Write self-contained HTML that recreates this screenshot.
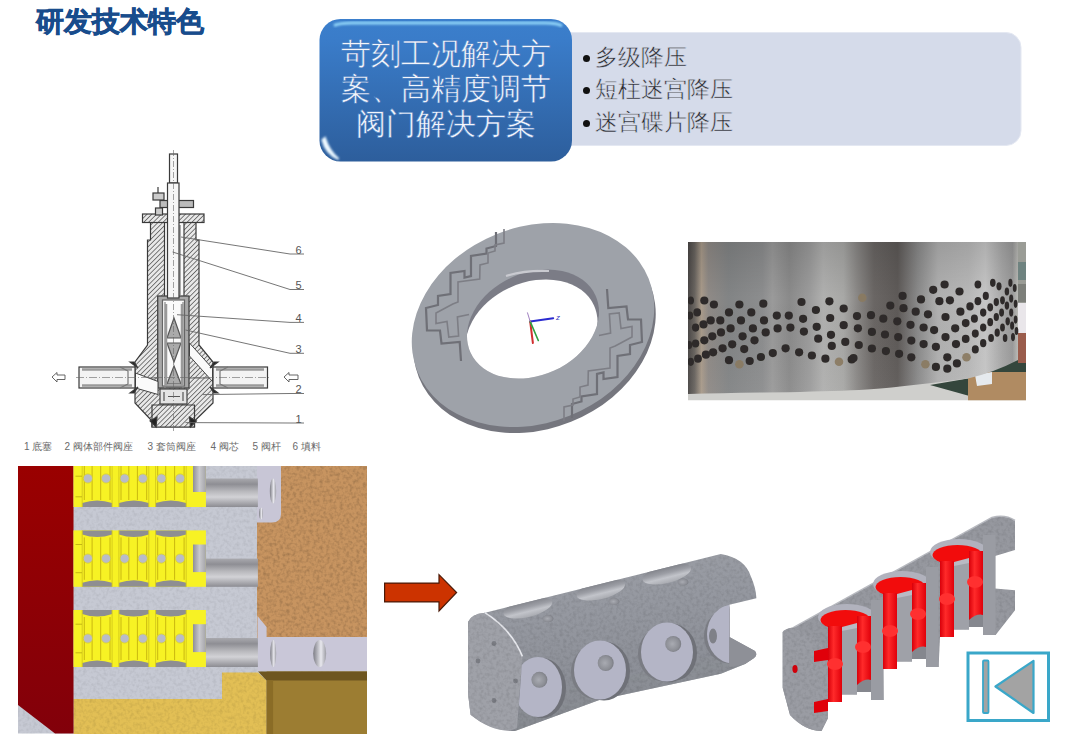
<!DOCTYPE html>
<html><head><meta charset="utf-8">
<style>
html,body{margin:0;padding:0;background:#fff;}
body{width:1067px;height:742px;position:relative;overflow:hidden;font-family:"Liberation Sans",sans-serif;}
.abs{position:absolute;}
#title{left:36px;top:5px;font-size:28px;font-weight:900;color:#184c8c;-webkit-text-stroke:0.7px #184c8c;letter-spacing:0px;line-height:34px;white-space:nowrap;}
#bluetxt{left:322px;top:37px;width:248px;text-align:center;color:#f4f6fb;-webkit-text-stroke:0.5px #3a74bd;font-family:"Liberation Serif",serif;font-weight:300;font-size:29.5px;line-height:35px;}
.bul{left:595px;font-size:23px;font-weight:300;color:#2a2a2a;-webkit-text-stroke:0.5px #d6dcea;line-height:26px;white-space:nowrap;}
.dot{left:582.5px;width:7px;height:7px;border-radius:50%;background:#111;}
.lbl{font-size:11px;color:#555;line-height:12px;}
#cap{left:23px;top:440px;font-size:10px;color:#6a6a6a;white-space:nowrap;}
#cap span{position:absolute;top:0;white-space:nowrap;}
</style></head><body>
<svg class="abs" style="left:0;top:0" width="1067" height="742" viewBox="0 0 1067 742">
<defs>
 <linearGradient id="gBlue" x1="0" y1="0" x2="0" y2="1">
  <stop offset="0" stop-color="#3b7fcc"/><stop offset="0.15" stop-color="#3a7cc9"/><stop offset="1" stop-color="#2d5e9c"/>
 </linearGradient>
 <linearGradient id="gRed" x1="0" y1="0" x2="1" y2="1">
  <stop offset="0" stop-color="#a30000"/><stop offset="1" stop-color="#7a0008"/>
 </linearGradient>
</defs>
<!-- light panel -->
<rect x="556" y="32.5" width="465" height="113" rx="15" fill="#d5dbea" stroke="#e4e8f2" stroke-width="1"/>
<!-- blue box -->
<rect x="319.5" y="19" width="252.5" height="142.5" rx="21" fill="url(#gBlue)"/>
<filter id="blur1" x="-10%" y="-50%" width="120%" height="200%"><feGaussianBlur stdDeviation="0.9"/></filter>
<path d="M334,25.5 Q340,23 352,23 L545,23 Q557,23 562,26" stroke="#90d4f8" stroke-width="3" fill="none" filter="url(#blur1)"/>
<path d="M571,45 L571,138" stroke="#b5e6fa" stroke-width="1.6" fill="none" filter="url(#blur1)"/>
<path d="M322.5,140 Q326,154 338.5,159 Q329,151 325,138 Z" fill="#f4fbff" stroke="#e8f6ff" stroke-width="2" filter="url(#blur1)"/>

<!-- VALVE DRAWING -->
<defs>
 <pattern id="hatch" patternUnits="userSpaceOnUse" width="3.4" height="3.4" patternTransform="rotate(45)">
  <rect width="3.4" height="3.4" fill="#e8e8e8"/><line x1="0" y1="0" x2="0" y2="3.4" stroke="#5e5e5e" stroke-width="1.6"/>
 </pattern>
</defs>
<g stroke="#3a3a3a" stroke-width="1.2" fill="none">
 <!-- body hatched -->
 <path fill="url(#hatch)" d="M150.5,222 L150.5,240 L147.5,240 L147.5,345 L135,362 L135,403 L152,421 L152,427 L194.5,427 L194.5,421 L213,403 L213,362 L199,345 L199,240 L196,240 L196,222 Z"/>
 <!-- bore -->
 <rect x="164.5" y="222" width="19.5" height="75" fill="#fafafa"/>
 <path d="M168,225 L168,295 M180,225 L180,295" stroke="#777"/>
 <!-- cage cavity -->
 <rect x="157.7" y="296" width="31.3" height="92" fill="#a8a8a8" stroke="#444" stroke-width="1.3"/>
 <rect x="162.5" y="300" width="22" height="86" fill="#fafafa" stroke="#666"/>
 <path d="M165,302 L165,390 M183,302 L183,390" stroke="#888"/>
 <path d="M174,318 L167,338 L181,338 Z M167,343 L181,343 L174,362 Z M174,366 L167,384 L181,384 Z" fill="#aaa" stroke="#555"/>
 <path d="M166,304 L166,386 M182,304 L182,386" stroke="#999" stroke-width="2.5"/>
 <!-- bottom plug -->
 <rect x="160" y="389" width="27" height="15" fill="#e4e4e4" stroke="#444"/>
 <path d="M164,392 L164,401 M183,392 L183,401 M168,396.5 L180,396.5" stroke="#555"/>
 <path fill="url(#hatch)" d="M152,405 L194.5,405 L194.5,427 L152,427 Z"/>
 <!-- flow passages -->
 <path d="M136,378 L159,378 M189,378 L212,378" stroke="#666"/>
 <path d="M135.5,373 L158,381.5 L158,394.5 L135.5,388 Z M189.5,343 L212.5,368.5 L212.5,381.5 L189.5,356 Z" fill="#fafafa" stroke="#444" stroke-width="1"/>
 <!-- flange & gland -->
 <rect x="142.5" y="214" width="61.5" height="8.5" fill="url(#hatch)"/>
 <rect x="160" y="200.5" width="33.5" height="7" fill="#bbb"/>
 <rect x="153" y="193" width="11" height="7" fill="#ccc"/>
 <rect x="155.5" y="208" width="7" height="7" fill="#ccc"/>
 <line x1="158" y1="187" x2="158" y2="193"/>
 <!-- stem -->
 <rect x="169.5" y="154" width="8" height="29" fill="#f6f6f6"/>
 <rect x="167.5" y="183" width="11.5" height="115" fill="#f6f6f6"/>
 <line x1="173.5" y1="150" x2="173.5" y2="432" stroke="#666" stroke-width="0.6" stroke-dasharray="6,2,1,2"/>
 <!-- pipes -->
 <rect x="79" y="367" width="56" height="21" fill="#f3f3f3"/>
 <rect x="213" y="367" width="54.5" height="21" fill="#f3f3f3"/>
 <path d="M82,369.5 L132,369.5 M82,385.5 L132,385.5 M216,369.5 L264,369.5 M216,385.5 L264,385.5" stroke="#9a9a9a" stroke-width="2.6"/>
 <path d="M120,367 L128,371 L128,384 L120,388 M228,367 L220,371 L220,384 L228,388" stroke="#777"/>
 <line x1="76" y1="377.5" x2="270" y2="377.5" stroke="#666" stroke-width="0.6" stroke-dasharray="8,2,1,2"/>
 <path d="M130,362 L138,368 L134,362 Z M130,393 L138,387 L134,393 Z M218,362 L210,368 L214,362 Z M218,393 L210,387 L214,393 Z" fill="#222"/>
 <path d="M150,421 L157,417 L156,427 Z M196.5,421 L189.5,417 L190.5,427 Z" fill="#222"/>
 <!-- arrows -->
 <path d="M52,377 L57,372.5 L57,375 L65,375 L65,379.5 L57,379.5 L57,382 Z" fill="#fff" stroke="#555" stroke-width="0.9"/>
 <path d="M284,377 L289,372.5 L289,375 L298,375 L298,379.5 L289,379.5 L289,382 Z" fill="#fff" stroke="#555" stroke-width="0.9"/>
 <!-- leader lines -->
 <g stroke="#666" stroke-width="0.9">
  <path d="M181,237 L290,254 L304,254"/>
  <path d="M172.6,252 L290,289.5 L304,289.5"/>
  <path d="M177,314.7 L290,322.4 L304,322.4"/>
  <path d="M185.5,330 L290,353.3 L304,353.3"/>
  <path d="M202.8,394.6 L290,393.5 L304,393.5"/>
  <path d="M185.5,422.6 L290,423 L304,423"/>
 </g>
</g>

<!-- RING -->
<defs>
 <clipPath id="holeClip" clipPathUnits="userSpaceOnUse"><ellipse cx="0" cy="0" rx="68.7" ry="51.2" transform="translate(533,324) rotate(-24.5)"/></clipPath>
</defs>
<g transform="translate(534.5,331) rotate(-21.9)"><ellipse cx="0" cy="0" rx="124.6" ry="97.9" fill="#75767e"/></g>
<g transform="translate(533,325) rotate(-21.9)"><ellipse cx="0" cy="0" rx="124.6" ry="97.9" fill="#9ea2a9"/></g>
<g transform="translate(533,324) rotate(-24.5)"><ellipse cx="0" cy="0" rx="68.7" ry="51.2" fill="#7b7c86"/></g>
<g clip-path="url(#holeClip)"><g transform="translate(531.5,334) rotate(-24.5)"><ellipse cx="0" cy="0" rx="68.7" ry="51.2" fill="#ffffff"/></g></g>
<g fill="none" stroke-linejoin="miter">
 <path d="M496.0,232.0 L496.0,246.0 L486.5,248.5 L486.5,253.5 L471.0,256.0 L471.0,276.0 L464.5,277.5 L464.5,271.0 L450.5,273.0 L450.5,294.0 L438.0,296.0 L438.0,305.0 L426.0,308.0 L427.0,330.5 L440.0,330.5 L441.5,343.5 L459.7,342.0 L461.0,361.0" stroke="#6f7077" stroke-width="2.2"/>
 <path d="M504.0,229.0 L504.0,243.0 L495.0,245.0 L495.0,251.0 L488.0,253.0 L488.0,263.0 L480.0,265.0 L479.7,279.0 L465.0,281.0 L458.0,282.0 L458.0,302.0 L452.8,304.0 L436.0,313.0 L436.0,323.5 L447.0,321.5 L448.8,337.0 L458.6,336.0 L457.4,317.0 L469.0,314.5" stroke="#7d7e85" stroke-width="1.6"/>
 <path d="M572.0,418.0 L572.0,404.0 L581.5,401.5 L581.5,396.5 L597.0,394.0 L597.0,374.0 L603.5,372.5 L603.5,379.0 L617.5,377.0 L617.5,356.0 L630.0,354.0 L630.0,345.0 L642.0,342.0 L641.0,319.5 L628.0,319.5 L626.5,306.5 L608.3,308.0 L607.0,289.0" stroke="#6f7077" stroke-width="2.2"/>
 <path d="M564.0,421.0 L564.0,407.0 L573.0,405.0 L573.0,399.0 L580.0,397.0 L580.0,387.0 L588.0,385.0 L588.3,371.0 L603.0,369.0 L610.0,368.0 L610.0,348.0 L615.2,346.0 L632.0,337.0 L632.0,326.5 L621.0,328.5 L619.2,313.0 L609.4,314.0 L610.6,333.0 L599.0,335.5" stroke="#7d7e85" stroke-width="1.6"/>
</g>
<path d="M506,276 Q525,270 549,271" stroke="#c9cad0" stroke-width="2.2" fill="none"/>
<g stroke-linecap="round">
 <line x1="530.2" y1="321.6" x2="553.2" y2="318.2" stroke="#2a2ad0" stroke-width="2"/>
 <line x1="530.2" y1="321.6" x2="532.9" y2="343" stroke="#d03030" stroke-width="2"/>
 <line x1="530.2" y1="321.6" x2="538.3" y2="340.5" stroke="#30a040" stroke-width="1.6"/>
 <line x1="530.2" y1="321.6" x2="527.5" y2="312.8" stroke="#a080c0" stroke-width="1"/>
 <text x="556" y="320" font-size="8" fill="#4040c0" font-family="Liberation Sans" font-style="italic">z</text>
</g>

<!-- PHOTO -->
<defs>
 <linearGradient id="gMetal" x1="688" y1="0" x2="1026" y2="0" gradientUnits="userSpaceOnUse">
  <stop offset="0" stop-color="#4a4746"/>
  <stop offset="0.02" stop-color="#6a6560"/>
  <stop offset="0.04" stop-color="#a89a8a"/>
  <stop offset="0.06" stop-color="#8f8a86"/>
  <stop offset="0.12" stop-color="#828485"/>
  <stop offset="0.22" stop-color="#8c8d8e"/>
  <stop offset="0.25" stop-color="#9a9a9a"/>
  <stop offset="0.3" stop-color="#8a8a8a"/>
  <stop offset="0.36" stop-color="#9c9c9c"/>
  <stop offset="0.4" stop-color="#b0b0af"/>
  <stop offset="0.46" stop-color="#a8a8a6"/>
  <stop offset="0.5" stop-color="#8a8886"/>
  <stop offset="0.55" stop-color="#6a6664"/>
  <stop offset="0.62" stop-color="#5e5a58"/>
  <stop offset="0.68" stop-color="#8a8a8a"/>
  <stop offset="0.74" stop-color="#b0b0b0"/>
  <stop offset="0.83" stop-color="#b8b8b8"/>
  <stop offset="0.88" stop-color="#c6c6c6"/>
  <stop offset="0.93" stop-color="#a8a8a8"/>
  <stop offset="0.96" stop-color="#9a9a9a"/>
  <stop offset="0.975" stop-color="#b8b8b4"/>
  <stop offset="1" stop-color="#a8a8a4"/>
 </linearGradient>
 <filter id="blurS" x="-5%" y="-5%" width="110%" height="110%"><feGaussianBlur stdDeviation="0.5"/></filter>
 <linearGradient id="gMetalV" x1="0" y1="242" x2="0" y2="400" gradientUnits="userSpaceOnUse">
  <stop offset="0" stop-color="#000" stop-opacity="0.12"/>
  <stop offset="0.35" stop-color="#000" stop-opacity="0"/>
  <stop offset="1" stop-color="#fff" stop-opacity="0.05"/>
 </linearGradient>
</defs>
<clipPath id="photoClip"><rect x="688" y="242" width="338" height="158.5"/></clipPath>
<g clip-path="url(#photoClip)">
<rect x="688" y="242" width="338" height="158.5" fill="#cfcfcc"/>
<path d="M930,385 L968,378.6 L969.5,396 Z" fill="#34463c"/>
<path d="M988,355 L1026,355 L1026,372 L988,372 Z" fill="#34463c"/>
<path d="M968,372 L1026,372 L1026,400.5 L968,400.5 Z" fill="#b08b62"/>
<path d="M975,375 L992,372 L992,384 L977,386 Z" fill="#e6eaee"/>
<rect x="1018" y="242" width="8" height="120" fill="#9a9c96"/>
<rect x="1018" y="262" width="8" height="18" fill="#6f8380"/>
<rect x="1018" y="284" width="8" height="18" fill="#7d7f7a"/>
<rect x="1018" y="303" width="8" height="30" fill="#e9e6ea"/>
<rect x="1018" y="333" width="8" height="30" fill="#9a5c4c"/>

<path d="M688,242 L1018,242 L1018,360 Q995,372 968,378.6 Q935,383 900,386.4 Q870,391 760,392.5 Q720,393 688,394 Z" fill="url(#gMetal)"/>
<path d="M688,242 L1018,242 L1018,360 Q995,372 968,378.6 Q935,383 900,386.4 Q870,391 760,392.5 Q720,393 688,394 Z" fill="url(#gMetalV)"/>
<g fill="#2e2b29" filter="url(#blurS)"><ellipse cx="690.8" cy="300.5" rx="3.18" ry="4.1"/><ellipse cx="704.3" cy="300.5" rx="4.10" ry="4.1"/><ellipse cx="713.9" cy="304.5" rx="4.10" ry="4.1"/><ellipse cx="697.2" cy="312.4" rx="3.82" ry="4.1"/><ellipse cx="690.0" cy="315.6" rx="3.10" ry="4.1"/><ellipse cx="710.7" cy="320.4" rx="4.10" ry="4.1"/><ellipse cx="720.3" cy="320.4" rx="4.10" ry="4.1"/><ellipse cx="729.0" cy="312.4" rx="4.10" ry="4.1"/><ellipse cx="739.4" cy="304.5" rx="4.10" ry="4.1"/><ellipse cx="763.3" cy="303.7" rx="4.10" ry="4.1"/><ellipse cx="751.3" cy="312.4" rx="4.10" ry="4.1"/><ellipse cx="741.0" cy="320.4" rx="4.10" ry="4.1"/><ellipse cx="764.0" cy="320.4" rx="4.10" ry="4.1"/><ellipse cx="776.8" cy="315.6" rx="4.10" ry="4.1"/><ellipse cx="788.8" cy="315.6" rx="4.10" ry="4.1"/><ellipse cx="801.5" cy="302.0" rx="4.10" ry="4.1"/><ellipse cx="815.9" cy="310.0" rx="4.10" ry="4.1"/><ellipse cx="829.4" cy="301.3" rx="4.10" ry="4.1"/><ellipse cx="843.7" cy="308.5" rx="4.10" ry="4.1"/><ellipse cx="830.2" cy="318.0" rx="4.10" ry="4.1"/><ellipse cx="803.1" cy="318.8" rx="4.10" ry="4.1"/><ellipse cx="695.6" cy="327.6" rx="3.66" ry="4.1"/><ellipse cx="703.5" cy="324.4" rx="4.10" ry="4.1"/><ellipse cx="721.0" cy="332.4" rx="4.10" ry="4.1"/><ellipse cx="730.6" cy="328.4" rx="4.10" ry="4.1"/><ellipse cx="752.9" cy="328.4" rx="4.10" ry="4.1"/><ellipse cx="765.7" cy="332.4" rx="4.10" ry="4.1"/><ellipse cx="777.6" cy="328.4" rx="4.10" ry="4.1"/><ellipse cx="790.4" cy="327.6" rx="4.10" ry="4.1"/><ellipse cx="803.9" cy="331.6" rx="4.10" ry="4.1"/><ellipse cx="816.7" cy="326.8" rx="4.10" ry="4.1"/><ellipse cx="843.7" cy="325.2" rx="4.10" ry="4.1"/><ellipse cx="831.0" cy="334.8" rx="4.10" ry="4.1"/><ellipse cx="712.3" cy="336.3" rx="4.10" ry="4.1"/><ellipse cx="704.3" cy="340.3" rx="4.10" ry="4.1"/><ellipse cx="695.6" cy="343.5" rx="3.66" ry="4.1"/><ellipse cx="689.2" cy="345.0" rx="3.02" ry="4.1"/><ellipse cx="742.6" cy="336.3" rx="4.10" ry="4.1"/><ellipse cx="754.5" cy="340.3" rx="4.10" ry="4.1"/><ellipse cx="732.2" cy="344.3" rx="4.10" ry="4.1"/><ellipse cx="722.6" cy="348.3" rx="4.10" ry="4.1"/><ellipse cx="713.1" cy="352.3" rx="4.10" ry="4.1"/><ellipse cx="705.9" cy="354.7" rx="4.10" ry="4.1"/><ellipse cx="698.0" cy="358.7" rx="3.90" ry="4.1"/><ellipse cx="690.8" cy="361.8" rx="3.18" ry="4.1"/><ellipse cx="744.2" cy="349.1" rx="4.10" ry="4.1"/><ellipse cx="729.0" cy="360.2" rx="4.10" ry="4.1"/><ellipse cx="749.7" cy="361.0" rx="4.10" ry="4.1"/><ellipse cx="760.9" cy="357.0" rx="4.10" ry="4.1"/><ellipse cx="772.8" cy="353.1" rx="4.10" ry="4.1"/><ellipse cx="785.6" cy="348.3" rx="4.10" ry="4.1"/><ellipse cx="799.1" cy="352.3" rx="4.10" ry="4.1"/><ellipse cx="811.9" cy="355.5" rx="4.10" ry="4.1"/><ellipse cx="825.4" cy="358.7" rx="4.10" ry="4.1"/><ellipse cx="818.2" cy="338.7" rx="4.10" ry="4.1"/><ellipse cx="831.8" cy="345.9" rx="4.10" ry="4.1"/><ellipse cx="845.3" cy="341.9" rx="4.10" ry="4.1"/><ellipse cx="851.7" cy="359.5" rx="4.10" ry="4.1"/><ellipse cx="857.0" cy="316.1" rx="4.10" ry="4.1"/><ellipse cx="871.0" cy="315.2" rx="4.10" ry="4.1"/><ellipse cx="857.9" cy="328.3" rx="4.10" ry="4.1"/><ellipse cx="871.9" cy="331.9" rx="4.10" ry="4.1"/><ellipse cx="858.8" cy="345.0" rx="4.10" ry="4.1"/><ellipse cx="871.9" cy="348.5" rx="4.10" ry="4.1"/><ellipse cx="853.5" cy="358.1" rx="4.10" ry="4.1"/><ellipse cx="890.3" cy="305.6" rx="4.10" ry="4.1"/><ellipse cx="883.3" cy="318.7" rx="4.10" ry="4.1"/><ellipse cx="885.0" cy="334.5" rx="4.10" ry="4.1"/><ellipse cx="885.9" cy="351.1" rx="4.10" ry="4.1"/><ellipse cx="902.6" cy="295.9" rx="4.10" ry="4.1"/><ellipse cx="903.5" cy="308.2" rx="4.10" ry="4.1"/><ellipse cx="897.3" cy="321.3" rx="4.10" ry="4.1"/><ellipse cx="898.2" cy="337.1" rx="4.10" ry="4.1"/><ellipse cx="899.1" cy="353.8" rx="4.10" ry="4.1"/><ellipse cx="911.3" cy="357.3" rx="4.10" ry="4.1"/><ellipse cx="921.0" cy="299.4" rx="4.10" ry="4.1"/><ellipse cx="915.7" cy="311.7" rx="4.10" ry="4.1"/><ellipse cx="910.5" cy="324.8" rx="4.10" ry="4.1"/><ellipse cx="911.3" cy="340.6" rx="4.10" ry="4.1"/><ellipse cx="923.6" cy="327.5" rx="4.10" ry="4.1"/><ellipse cx="923.6" cy="344.1" rx="4.10" ry="4.1"/><ellipse cx="928.0" cy="314.3" rx="4.10" ry="4.1"/><ellipse cx="933.2" cy="289.8" rx="4.10" ry="4.1"/><ellipse cx="944.6" cy="284.5" rx="4.10" ry="4.1"/><ellipse cx="939.4" cy="301.2" rx="4.10" ry="4.1"/><ellipse cx="949.9" cy="300.3" rx="4.10" ry="4.1"/><ellipse cx="945.5" cy="317.0" rx="4.10" ry="4.1"/><ellipse cx="934.1" cy="330.1" rx="4.10" ry="4.1"/><ellipse cx="935.9" cy="346.8" rx="4.10" ry="4.1"/><ellipse cx="935.9" cy="366.9" rx="4.10" ry="4.1"/><ellipse cx="947.3" cy="357.3" rx="4.10" ry="4.1"/><ellipse cx="947.3" cy="368.7" rx="4.10" ry="4.1"/><ellipse cx="956.9" cy="363.4" rx="4.10" ry="4.1"/><ellipse cx="945.5" cy="337.1" rx="4.10" ry="4.1"/><ellipse cx="955.2" cy="328.3" rx="4.10" ry="4.1"/><ellipse cx="959.5" cy="291.5" rx="4.10" ry="4.1"/><ellipse cx="960.4" cy="311.7" rx="4.08" ry="4.1"/><ellipse cx="956.0" cy="344.1" rx="4.10" ry="4.1"/><ellipse cx="965.7" cy="323.1" rx="3.87" ry="4.1"/><ellipse cx="965.7" cy="338.9" rx="3.87" ry="4.1"/><ellipse cx="977.9" cy="284.5" rx="3.38" ry="4.1"/><ellipse cx="970.0" cy="306.4" rx="3.70" ry="4.1"/><ellipse cx="977.9" cy="301.2" rx="3.38" ry="4.1"/><ellipse cx="974.4" cy="318.7" rx="3.52" ry="4.1"/><ellipse cx="975.3" cy="333.6" rx="3.49" ry="4.1"/><ellipse cx="975.3" cy="349.4" rx="3.49" ry="4.1"/><ellipse cx="985.8" cy="295.9" rx="3.07" ry="4.1"/><ellipse cx="983.2" cy="312.6" rx="3.17" ry="4.1"/><ellipse cx="983.2" cy="327.5" rx="3.17" ry="4.1"/><ellipse cx="983.2" cy="343.2" rx="3.17" ry="4.1"/><ellipse cx="992.8" cy="282.8" rx="2.79" ry="4.1"/><ellipse cx="999.0" cy="286.3" rx="2.54" ry="4.1"/><ellipse cx="990.2" cy="307.3" rx="2.89" ry="4.1"/><ellipse cx="990.2" cy="322.2" rx="2.89" ry="4.1"/><ellipse cx="991.1" cy="338.0" rx="2.86" ry="4.1"/><ellipse cx="996.3" cy="302.1" rx="2.65" ry="4.1"/><ellipse cx="996.3" cy="317.0" rx="2.65" ry="4.1"/><ellipse cx="997.2" cy="332.7" rx="2.61" ry="4.1"/><ellipse cx="1002.5" cy="300.3" rx="2.40" ry="4.1"/><ellipse cx="1001.6" cy="312.6" rx="2.44" ry="4.1"/><ellipse cx="1002.5" cy="327.5" rx="2.40" ry="4.1"/><ellipse cx="1005.1" cy="338.0" rx="2.30" ry="4.1"/><ellipse cx="1006.9" cy="291.5" rx="2.22" ry="4.1"/><ellipse cx="1006.9" cy="305.6" rx="2.22" ry="4.1"/><ellipse cx="1007.7" cy="321.3" rx="2.19" ry="4.1"/><ellipse cx="1010.4" cy="282.8" rx="2.08" ry="4.1"/><ellipse cx="1011.2" cy="298.6" rx="2.05" ry="4.1"/><ellipse cx="1011.2" cy="312.6" rx="2.05" ry="4.1"/><ellipse cx="1012.1" cy="325.7" rx="2.02" ry="4.1"/><ellipse cx="1013.0" cy="337.1" rx="1.98" ry="4.1"/><ellipse cx="1014.7" cy="288.0" rx="1.91" ry="4.1"/><ellipse cx="1015.6" cy="303.8" rx="1.88" ry="4.1"/><ellipse cx="1015.6" cy="319.6" rx="1.88" ry="4.1"/><ellipse cx="1016.5" cy="331.0" rx="1.84" ry="4.1"/></g><g fill="#8a7a60" opacity="0.9"><circle cx="739.4" cy="364.2" r="4.3"/><circle cx="839.0" cy="361.8" r="4.3"/><circle cx="862.3" cy="297.7" r="4.3"/><circle cx="925.4" cy="364.3" r="4.3"/><circle cx="966.5" cy="357.3" r="4.3"/></g>
</g>
<!-- BOTTOM-LEFT RENDER -->
<defs>
<filter id="noise" x="0" y="0" width="100%" height="100%" filterUnits="objectBoundingBox">
  <feTurbulence type="fractalNoise" baseFrequency="0.3" numOctaves="2" seed="3" result="t"/>
  <feColorMatrix in="t" type="matrix" values="0 0 0 0 0  0 0 0 0 0  0 0 0 0 0  0 0 0 -1.6 0.95" result="a"/>
  <feComposite in="a" in2="SourceGraphic" operator="in"/>
 </filter>

 <linearGradient id="gRedP" x1="0" y1="0" x2="0" y2="1">
  <stop offset="0" stop-color="#9a0000"/><stop offset="1" stop-color="#82000a"/>
 </linearGradient>
 <linearGradient id="gPipe" x1="0" y1="0" x2="0" y2="1">
  <stop offset="0" stop-color="#a9a9ae"/><stop offset="0.2" stop-color="#8e8e94"/><stop offset="0.45" stop-color="#b8b8bc"/><stop offset="0.65" stop-color="#d2d2d6"/><stop offset="1" stop-color="#8c8c92"/>
 </linearGradient>
 <linearGradient id="gNotch" x1="0" y1="0" x2="1" y2="0">
  <stop offset="0" stop-color="#8f8f95"/><stop offset="0.5" stop-color="#c9c9cd"/><stop offset="1" stop-color="#a4a4a9"/>
 </linearGradient>
 <linearGradient id="gHoleL" x1="0" y1="0" x2="1" y2="0">
  <stop offset="0" stop-color="#7c7c84"/><stop offset="0.6" stop-color="#e8e8ee"/><stop offset="1" stop-color="#9c9ca4"/>
 </linearGradient>
</defs>
<rect x="18" y="466" width="349" height="267.5" fill="#c6c9d3"/>
<rect x="18" y="466" width="349" height="267.5" fill="#6a7080" opacity="0.09" filter="url(#noise)"/>
<!-- brown -->
<rect x="257" y="466" width="110" height="172" fill="#c79460"/>
<rect x="257" y="466" width="110" height="172" fill="#8a5a2a" opacity="0.22" filter="url(#noise)"/>
<!-- upper lavender plate -->
<path d="M257,466 L281,466 L281,514 Q281,522.5 272,522.5 L257,522.5 Z" fill="#c8c6d6"/>
<ellipse cx="273" cy="491" rx="3.2" ry="12.5" fill="url(#gHoleL)"/>
<ellipse cx="261" cy="513.5" rx="2" ry="6" fill="url(#gHoleL)"/>
<!-- lower lavender plate -->
<path d="M257.5,616 L266.6,627 L266.6,637 L367,637 L367,671 L257.5,671 Z" fill="#c9c7d8"/>
<ellipse cx="273.2" cy="653.5" rx="3" ry="13.5" fill="url(#gHoleL)"/>
<ellipse cx="319.7" cy="653.5" rx="6.5" ry="13.5" fill="url(#gHoleL)"/>
<!-- gold -->
<path d="M73.5,699 L222,699 L222,672.5 L258,672.5 L266.6,680.5 L266.6,734 L73.5,734 Z" fill="#e2bf55"/>
<path d="M73.5,699 L222,699 L222,672.5 L258,672.5 L266.6,680.5 L266.6,734 L73.5,734 Z" fill="#8a6a20" opacity="0.12" filter="url(#noise)"/>
<!-- olive -->
<rect x="266.6" y="671.5" width="100.4" height="62.5" fill="#9c7d32"/>
<path d="M258,671.5 L367,671.5 L367,680.5 L266.6,680.5 Z" fill="#6e5620"/>
<rect x="266.6" y="680.5" width="6.5" height="53.5" fill="#8a6c26"/>
<!-- red panel -->
<path d="M18,466 L73.5,466 L73.5,733.5 L55,733.5 L18,705 Z" fill="url(#gRedP)"/>

<rect x="205.9" y="478.5" width="52" height="28.5" fill="url(#gPipe)"/>
<rect x="73.5" y="466" width="132.4" height="41.0" fill="#f7f224"/>
<path d="M82.2,507 L112.1,507 L112.1,503 Q97.15,498 82.2,503 Z" fill="#8e8e92"/>
<line x1="84.3" y1="466" x2="84.3" y2="500" stroke="#c9b810" stroke-width="1"/>
<line x1="92.1" y1="466" x2="92.1" y2="500" stroke="#c9b810" stroke-width="1"/>
<line x1="100.7" y1="466" x2="100.7" y2="500" stroke="#c9b810" stroke-width="1"/>
<line x1="110.0" y1="466" x2="110.0" y2="500" stroke="#c9b810" stroke-width="1"/>
<circle cx="87.9" cy="478.5" r="4.6" fill="#b9bcc8" stroke="#d8cf30" stroke-width="0.8"/>
<circle cx="106.1" cy="478.5" r="4.6" fill="#b9bcc8" stroke="#d8cf30" stroke-width="0.8"/>
<path d="M118.9,507 L148.8,507 L148.8,503 Q133.85000000000002,498 118.9,503 Z" fill="#8e8e92"/>
<line x1="121.0" y1="466" x2="121.0" y2="500" stroke="#c9b810" stroke-width="1"/>
<line x1="128.8" y1="466" x2="128.8" y2="500" stroke="#c9b810" stroke-width="1"/>
<line x1="137.4" y1="466" x2="137.4" y2="500" stroke="#c9b810" stroke-width="1"/>
<line x1="146.7" y1="466" x2="146.7" y2="500" stroke="#c9b810" stroke-width="1"/>
<circle cx="124.6" cy="478.5" r="4.6" fill="#b9bcc8" stroke="#d8cf30" stroke-width="0.8"/>
<circle cx="142.8" cy="478.5" r="4.6" fill="#b9bcc8" stroke="#d8cf30" stroke-width="0.8"/>
<path d="M155.6,507 L186.2,507 L186.2,503 Q170.89999999999998,498 155.6,503 Z" fill="#8e8e92"/>
<line x1="157.7" y1="466" x2="157.7" y2="500" stroke="#c9b810" stroke-width="1"/>
<line x1="165.7" y1="466" x2="165.7" y2="500" stroke="#c9b810" stroke-width="1"/>
<line x1="174.6" y1="466" x2="174.6" y2="500" stroke="#c9b810" stroke-width="1"/>
<line x1="184.1" y1="466" x2="184.1" y2="500" stroke="#c9b810" stroke-width="1"/>
<circle cx="161.4" cy="478.5" r="4.6" fill="#b9bcc8" stroke="#d8cf30" stroke-width="0.8"/>
<circle cx="180.1" cy="478.5" r="4.6" fill="#b9bcc8" stroke="#d8cf30" stroke-width="0.8"/>
<line x1="82.2" y1="466" x2="82.2" y2="507" stroke="#d4c81c" stroke-width="0.9"/>
<line x1="112.1" y1="466" x2="112.1" y2="507" stroke="#d4c81c" stroke-width="0.9"/>
<line x1="118.9" y1="466" x2="118.9" y2="507" stroke="#d4c81c" stroke-width="0.9"/>
<line x1="148.8" y1="466" x2="148.8" y2="507" stroke="#d4c81c" stroke-width="0.9"/>
<line x1="155.6" y1="466" x2="155.6" y2="507" stroke="#d4c81c" stroke-width="0.9"/>
<line x1="186.2" y1="466" x2="186.2" y2="507" stroke="#d4c81c" stroke-width="0.9"/>
<rect x="193" y="466.0" width="12.9" height="26.0" fill="url(#gNotch)"/>
<line x1="75.5" y1="476.2" x2="82" y2="476.2" stroke="#b8aa10" stroke-width="0.8"/>
<line x1="75.5" y1="496.8" x2="82" y2="496.8" stroke="#b8aa10" stroke-width="0.8"/>
<rect x="205.9" y="558.6" width="52" height="28.2" fill="url(#gPipe)"/>
<rect x="73.5" y="530.4" width="132.4" height="56.4" fill="#f7f224"/>
<path d="M82.2,530.4 L112.1,530.4 L112.1,534.4 Q97.15,539.4 82.2,534.4 Z" fill="#8e8e92"/>
<path d="M82.2,586.8 L112.1,586.8 L112.1,582.8 Q97.15,577.8 82.2,582.8 Z" fill="#8e8e92"/>
<line x1="84.3" y1="537.4" x2="84.3" y2="579.8" stroke="#c9b810" stroke-width="1"/>
<line x1="92.1" y1="537.4" x2="92.1" y2="579.8" stroke="#c9b810" stroke-width="1"/>
<line x1="100.7" y1="537.4" x2="100.7" y2="579.8" stroke="#c9b810" stroke-width="1"/>
<line x1="110.0" y1="537.4" x2="110.0" y2="579.8" stroke="#c9b810" stroke-width="1"/>
<circle cx="87.9" cy="558.5999999999999" r="4.6" fill="#b9bcc8" stroke="#d8cf30" stroke-width="0.8"/>
<circle cx="106.1" cy="558.5999999999999" r="4.6" fill="#b9bcc8" stroke="#d8cf30" stroke-width="0.8"/>
<path d="M118.9,530.4 L148.8,530.4 L148.8,534.4 Q133.85000000000002,539.4 118.9,534.4 Z" fill="#8e8e92"/>
<path d="M118.9,586.8 L148.8,586.8 L148.8,582.8 Q133.85000000000002,577.8 118.9,582.8 Z" fill="#8e8e92"/>
<line x1="121.0" y1="537.4" x2="121.0" y2="579.8" stroke="#c9b810" stroke-width="1"/>
<line x1="128.8" y1="537.4" x2="128.8" y2="579.8" stroke="#c9b810" stroke-width="1"/>
<line x1="137.4" y1="537.4" x2="137.4" y2="579.8" stroke="#c9b810" stroke-width="1"/>
<line x1="146.7" y1="537.4" x2="146.7" y2="579.8" stroke="#c9b810" stroke-width="1"/>
<circle cx="124.6" cy="558.5999999999999" r="4.6" fill="#b9bcc8" stroke="#d8cf30" stroke-width="0.8"/>
<circle cx="142.8" cy="558.5999999999999" r="4.6" fill="#b9bcc8" stroke="#d8cf30" stroke-width="0.8"/>
<path d="M155.6,530.4 L186.2,530.4 L186.2,534.4 Q170.89999999999998,539.4 155.6,534.4 Z" fill="#8e8e92"/>
<path d="M155.6,586.8 L186.2,586.8 L186.2,582.8 Q170.89999999999998,577.8 155.6,582.8 Z" fill="#8e8e92"/>
<line x1="157.7" y1="537.4" x2="157.7" y2="579.8" stroke="#c9b810" stroke-width="1"/>
<line x1="165.7" y1="537.4" x2="165.7" y2="579.8" stroke="#c9b810" stroke-width="1"/>
<line x1="174.6" y1="537.4" x2="174.6" y2="579.8" stroke="#c9b810" stroke-width="1"/>
<line x1="184.1" y1="537.4" x2="184.1" y2="579.8" stroke="#c9b810" stroke-width="1"/>
<circle cx="161.4" cy="558.5999999999999" r="4.6" fill="#b9bcc8" stroke="#d8cf30" stroke-width="0.8"/>
<circle cx="180.1" cy="558.5999999999999" r="4.6" fill="#b9bcc8" stroke="#d8cf30" stroke-width="0.8"/>
<line x1="82.2" y1="530.4" x2="82.2" y2="586.8" stroke="#d4c81c" stroke-width="0.9"/>
<line x1="112.1" y1="530.4" x2="112.1" y2="586.8" stroke="#d4c81c" stroke-width="0.9"/>
<line x1="118.9" y1="530.4" x2="118.9" y2="586.8" stroke="#d4c81c" stroke-width="0.9"/>
<line x1="148.8" y1="530.4" x2="148.8" y2="586.8" stroke="#d4c81c" stroke-width="0.9"/>
<line x1="155.6" y1="530.4" x2="155.6" y2="586.8" stroke="#d4c81c" stroke-width="0.9"/>
<line x1="186.2" y1="530.4" x2="186.2" y2="586.8" stroke="#d4c81c" stroke-width="0.9"/>
<rect x="193" y="544.5" width="12.9" height="27.6" fill="url(#gNotch)"/>
<line x1="75.5" y1="544.5" x2="82" y2="544.5" stroke="#b8aa10" stroke-width="0.8"/>
<line x1="75.5" y1="572.7" x2="82" y2="572.7" stroke="#b8aa10" stroke-width="0.8"/>
<rect x="205.9" y="638" width="52" height="29.0" fill="url(#gPipe)"/>
<rect x="73.5" y="610" width="132.4" height="57.0" fill="#f7f224"/>
<path d="M82.2,610 L112.1,610 L112.1,614 Q97.15,619 82.2,614 Z" fill="#8e8e92"/>
<path d="M82.2,667 L112.1,667 L112.1,663 Q97.15,658 82.2,663 Z" fill="#8e8e92"/>
<line x1="84.3" y1="617" x2="84.3" y2="660" stroke="#c9b810" stroke-width="1"/>
<line x1="92.1" y1="617" x2="92.1" y2="660" stroke="#c9b810" stroke-width="1"/>
<line x1="100.7" y1="617" x2="100.7" y2="660" stroke="#c9b810" stroke-width="1"/>
<line x1="110.0" y1="617" x2="110.0" y2="660" stroke="#c9b810" stroke-width="1"/>
<circle cx="87.9" cy="638.5" r="4.6" fill="#b9bcc8" stroke="#d8cf30" stroke-width="0.8"/>
<circle cx="106.1" cy="638.5" r="4.6" fill="#b9bcc8" stroke="#d8cf30" stroke-width="0.8"/>
<path d="M118.9,610 L148.8,610 L148.8,614 Q133.85000000000002,619 118.9,614 Z" fill="#8e8e92"/>
<path d="M118.9,667 L148.8,667 L148.8,663 Q133.85000000000002,658 118.9,663 Z" fill="#8e8e92"/>
<line x1="121.0" y1="617" x2="121.0" y2="660" stroke="#c9b810" stroke-width="1"/>
<line x1="128.8" y1="617" x2="128.8" y2="660" stroke="#c9b810" stroke-width="1"/>
<line x1="137.4" y1="617" x2="137.4" y2="660" stroke="#c9b810" stroke-width="1"/>
<line x1="146.7" y1="617" x2="146.7" y2="660" stroke="#c9b810" stroke-width="1"/>
<circle cx="124.6" cy="638.5" r="4.6" fill="#b9bcc8" stroke="#d8cf30" stroke-width="0.8"/>
<circle cx="142.8" cy="638.5" r="4.6" fill="#b9bcc8" stroke="#d8cf30" stroke-width="0.8"/>
<path d="M155.6,610 L186.2,610 L186.2,614 Q170.89999999999998,619 155.6,614 Z" fill="#8e8e92"/>
<path d="M155.6,667 L186.2,667 L186.2,663 Q170.89999999999998,658 155.6,663 Z" fill="#8e8e92"/>
<line x1="157.7" y1="617" x2="157.7" y2="660" stroke="#c9b810" stroke-width="1"/>
<line x1="165.7" y1="617" x2="165.7" y2="660" stroke="#c9b810" stroke-width="1"/>
<line x1="174.6" y1="617" x2="174.6" y2="660" stroke="#c9b810" stroke-width="1"/>
<line x1="184.1" y1="617" x2="184.1" y2="660" stroke="#c9b810" stroke-width="1"/>
<circle cx="161.4" cy="638.5" r="4.6" fill="#b9bcc8" stroke="#d8cf30" stroke-width="0.8"/>
<circle cx="180.1" cy="638.5" r="4.6" fill="#b9bcc8" stroke="#d8cf30" stroke-width="0.8"/>
<line x1="82.2" y1="610" x2="82.2" y2="667" stroke="#d4c81c" stroke-width="0.9"/>
<line x1="112.1" y1="610" x2="112.1" y2="667" stroke="#d4c81c" stroke-width="0.9"/>
<line x1="118.9" y1="610" x2="118.9" y2="667" stroke="#d4c81c" stroke-width="0.9"/>
<line x1="148.8" y1="610" x2="148.8" y2="667" stroke="#d4c81c" stroke-width="0.9"/>
<line x1="155.6" y1="610" x2="155.6" y2="667" stroke="#d4c81c" stroke-width="0.9"/>
<line x1="186.2" y1="610" x2="186.2" y2="667" stroke="#d4c81c" stroke-width="0.9"/>
<rect x="193" y="624.2" width="12.9" height="27.9" fill="url(#gNotch)"/>
<line x1="75.5" y1="624.2" x2="82" y2="624.2" stroke="#b8aa10" stroke-width="0.8"/>
<line x1="75.5" y1="652.8" x2="82" y2="652.8" stroke="#b8aa10" stroke-width="0.8"/>

<!-- ARROW -->
<path d="M384.6,583.1 L439,583.1 L439,574.7 L456.6,592.5 L439,610.9 L439,601.9 L384.6,601.9 Z" fill="#cc3300" stroke="#4a1a08" stroke-width="1.2"/>

<!-- CYLINDER -->
<defs>
 <linearGradient id="gCyl" x1="0" y1="0" x2="0.25" y2="1">
  <stop offset="0" stop-color="#9da0a7"/><stop offset="0.4" stop-color="#9598a0"/><stop offset="0.8" stop-color="#8b8e96"/><stop offset="1" stop-color="#80838b"/>
 </linearGradient>
 <linearGradient id="gCup" x1="0" y1="0" x2="0" y2="1">
  <stop offset="0" stop-color="#76787f"/><stop offset="0.45" stop-color="#9c9ea5"/><stop offset="0.7" stop-color="#c2c4ca"/><stop offset="1" stop-color="#a9abb1"/>
 </linearGradient>
 <radialGradient id="gHoleC" cx="0.45" cy="0.5" r="0.6">
  <stop offset="0" stop-color="#a9abb2"/><stop offset="0.7" stop-color="#8c8e95"/><stop offset="1" stop-color="#74767d"/>
 </radialGradient>
</defs>
<path d="M468,622 Q471,614 485,612.7 L720.8,554 Q745,558 751,576.7 Q756,588 756.4,598.3 L729.4,604.7 L729.4,637 L755,651 Q758,655 754,658 L745,664 L720.8,673.8 L600,699.7 L515,731 Q490,731 470.6,714.8 L468,693.6 Z" fill="url(#gCyl)"/>
<!-- bottom shading -->
<path d="M522,700 L729,652 L754,658 L745,664 L720.8,673.8 L600,699.7 L515,731 Z" fill="#8d8f96" opacity="0.55"/>
<!-- end face -->
<path d="M468,622 Q471,614 485,612.7 Q512,630 522.4,656.4 L517,728 L510.4,730.7 Q490,731 470.6,714.8 L468,693.6 Z" fill="#9fa1a8"/>
<path d="M485,612.7 Q512,630 522.4,656.4" stroke="#e8e9ee" stroke-width="1.6" fill="none"/>
<g fill="#7c7e85">
 <circle cx="494" cy="643.5" r="2.4"/><circle cx="478" cy="661" r="2.4"/><circle cx="515.5" cy="681" r="2.4"/><circle cx="494" cy="700.5" r="2.4"/>
</g>
<path d="M468,622 Q471,614 485,612.7 L720.8,554 Q745,558 751,576.7 Q756,588 756.4,598.3 L729.4,604.7 L729.4,637 L755,651 Q758,655 754,658 L745,664 L720.8,673.8 L600,699.7 L515,731 Q490,731 470.6,714.8 L468,693.6 Z" fill="#40434a" opacity="0.12" filter="url(#noise)"/>
<!-- top cups -->
<clipPath id="cylSil"><path d="M468,622 Q471,614 485,612.7 L720.8,554 Q745,558 751,576.7 Q756,588 756.4,598.3 L729.4,604.7 L729.4,637 L755,651 Q758,655 754,658 L745,664 L720.8,673.8 L600,699.7 L515,731 Q490,731 470.6,714.8 L468,693.6 Z"/></clipPath>
<g clip-path="url(#cylSil)">
 <ellipse cx="527" cy="608" rx="25" ry="9" transform="rotate(-14 527 605)" fill="url(#gCup)"/>
 <ellipse cx="600" cy="590" rx="25" ry="9" transform="rotate(-14 600 587)" fill="url(#gCup)"/>
 <ellipse cx="666" cy="574" rx="25" ry="9" transform="rotate(-14 666 571)" fill="url(#gCup)"/>
 <ellipse cx="548" cy="618.6" rx="5.5" ry="3.6" fill="url(#gHoleC)"/>
 <ellipse cx="614" cy="601.5" rx="5.5" ry="3.6" fill="url(#gHoleC)"/>
 <ellipse cx="683" cy="582" rx="5.5" ry="3.6" fill="url(#gHoleC)"/>
</g>

<clipPath id="cylClip"><path d="M522.4,656.4 L729.4,604.7 L729.4,664 L517,731 Z"/></clipPath>
<g clip-path="url(#cylClip)">
<ellipse cx="542" cy="688" rx="24" ry="30" fill="#6f7178"/>
<ellipse cx="538" cy="687" rx="24" ry="30" fill="#b4b5c6"/>
<circle cx="539.4" cy="679.8" r="8" fill="url(#gHoleC)"/>
<ellipse cx="604" cy="671" rx="26" ry="29.5" fill="#6f7178"/>
<ellipse cx="597" cy="672" rx="26" ry="27.5" fill="#7a7c83"/>
<ellipse cx="600" cy="670" rx="26" ry="29.5" fill="#b4b5c6"/>
<circle cx="605.7" cy="663" r="8" fill="url(#gHoleC)"/>
<ellipse cx="671" cy="653" rx="26" ry="29.5" fill="#6f7178"/>
<ellipse cx="664" cy="654" rx="26" ry="27.5" fill="#7a7c83"/>
<ellipse cx="667" cy="652" rx="26" ry="29.5" fill="#b4b5c6"/>
<circle cx="673.2" cy="643.9" r="8" fill="url(#gHoleC)"/>
<ellipse cx="737" cy="635" rx="26" ry="29.5" fill="#6f7178"/>
<ellipse cx="730" cy="636" rx="26" ry="27.5" fill="#7a7c83"/>
<ellipse cx="733" cy="634" rx="26" ry="29.5" fill="#b4b5c6"/>
<ellipse cx="713" cy="636" rx="4" ry="7.5" fill="#7f8188"/>
</g>
<path d="M729.4,637 L755,651 Q758,655 754,658 L745,664 L729.4,667 Z" fill="#8e9097"/>
<!-- CUT CYLINDER -->
<defs>
 <linearGradient id="gRedC" x1="0" y1="0" x2="1" y2="0">
  <stop offset="0" stop-color="#d8000a"/><stop offset="0.4" stop-color="#ff2a2a"/><stop offset="1" stop-color="#e0000a"/>
 </linearGradient>
</defs>
<path d="M782.7,632 Q786,628 793.6,627.4 L991.9,517.4 Q1005,514 1015,520.5 L1015,549.9 L995,556.1 L995,588.6 L1015,590.2 L1015,610.3 L995.6,635 L995.6,635.0 L983.0,635.0 L983.0,627.0 L969.0,627.0 L969.0,629.5 L954.0,629.5 L954.0,637.0 L940.0,637.0 L938.6,667.0 L926.0,667.0 L926.0,659.0 L912.0,659.0 L912.0,661.5 L897.0,661.5 L897.0,669.0 L883.0,669.0 L883.6,700.0 L871.0,700.0 L871.0,692.0 L857.0,692.0 L857.0,694.5 L842.0,694.5 L842.0,702.0 L828.0,702.0 L828,718 L821.5,731.1 Q805,731 790,715 L782.7,687.8 Z" fill="#96989f"/>
<path d="M793.6,627.4 L991.9,517.4 Q1005,514 1015,520.5" stroke="#b8bac0" stroke-width="1.5" fill="none"/>
<!-- left face -->
<path d="M782.7,632 Q786,628 793.6,627.4 Q818,640 828,650 L828,718 L821.5,731.1 Q805,731 790,715 L782.7,687.8 Z" fill="#9a9ca3"/>
<path d="M782.7,632 Q786,628 793.6,627.4 L991.9,517.4 Q1005,514 1015,520.5 L1015,549.9 L995,556.1 L995,588.6 L1015,590.2 L1015,610.3 L995.6,635 L995.6,635.0 L983.0,635.0 L983.0,627.0 L969.0,627.0 L969.0,629.5 L954.0,629.5 L954.0,637.0 L940.0,637.0 L938.6,667.0 L926.0,667.0 L926.0,659.0 L912.0,659.0 L912.0,661.5 L897.0,661.5 L897.0,669.0 L883.0,669.0 L883.6,700.0 L871.0,700.0 L871.0,692.0 L857.0,692.0 L857.0,694.5 L842.0,694.5 L842.0,702.0 L828.0,702.0 L828,718 L821.5,731.1 Q805,731 790,715 L782.7,687.8 Z" fill="#40434a" opacity="0.12" filter="url(#noise)"/>
<ellipse cx="795" cy="669" rx="2.6" ry="4" fill="#d0000a"/>
<path d="M814,651 L828,648 L828,660 L814,662 Z" fill="#e0000a"/>
<path d="M814,702 L828,699 L828,711 L814,713 Z" fill="#e0000a"/>

<ellipse cx="847" cy="617" rx="29" ry="13" fill="#b1b2bd"/>
<ellipse cx="845.5" cy="620" rx="25" ry="10" fill="#f20c0c"/>
<rect x="828" y="626" width="14" height="76" fill="url(#gRedC)"/>
<rect x="842" y="627" width="15" height="67.5" fill="#9fa1a8"/>
<path d="M842,627 L857,623 L857,628 L842,631 Z" fill="#b9bac4"/>
<rect x="857" y="616" width="14" height="69" fill="url(#gRedC)"/>
<path d="M857,685 Q865,678 871,680 L871,692 L857,692 Z" fill="#85878e"/>
<ellipse cx="835" cy="664" rx="8" ry="6" fill="#ff3030"/>
<ellipse cx="863" cy="647" rx="8" ry="6" fill="#ff3030"/>
<rect x="871" y="600" width="12.6" height="100" fill="#9a9ca3"/>
<ellipse cx="902" cy="584" rx="29" ry="13" fill="#b1b2bd"/>
<ellipse cx="900.5" cy="587" rx="25" ry="10" fill="#f20c0c"/>
<rect x="883" y="593" width="14" height="76" fill="url(#gRedC)"/>
<rect x="897" y="594" width="15" height="67.5" fill="#9fa1a8"/>
<path d="M897,594 L912,590 L912,595 L897,598 Z" fill="#b9bac4"/>
<rect x="912" y="583" width="14" height="69" fill="url(#gRedC)"/>
<path d="M912,652 Q920,645 926,647 L926,659 L912,659 Z" fill="#85878e"/>
<ellipse cx="890" cy="631" rx="8" ry="6" fill="#ff3030"/>
<ellipse cx="918" cy="614" rx="8" ry="6" fill="#ff3030"/>
<rect x="926" y="567" width="12.6" height="100" fill="#9a9ca3"/>
<ellipse cx="959" cy="552" rx="29" ry="13" fill="#b1b2bd"/>
<ellipse cx="957.5" cy="555" rx="25" ry="10" fill="#f20c0c"/>
<rect x="940" y="561" width="14" height="76" fill="url(#gRedC)"/>
<rect x="954" y="562" width="15" height="67.5" fill="#9fa1a8"/>
<path d="M954,562 L969,558 L969,563 L954,566 Z" fill="#b9bac4"/>
<rect x="969" y="551" width="14" height="69" fill="url(#gRedC)"/>
<path d="M969,620 Q977,613 983,615 L983,627 L969,627 Z" fill="#85878e"/>
<ellipse cx="947" cy="599" rx="8" ry="6" fill="#ff3030"/>
<ellipse cx="975" cy="582" rx="8" ry="6" fill="#ff3030"/>
<rect x="983" y="535" width="12.6" height="100" fill="#9a9ca3"/>

<!-- BACK BUTTON -->
<rect x="968" y="653" width="80.5" height="67.5" fill="#ffffff" stroke="#3aa7c9" stroke-width="3"/>
<rect x="983" y="660.5" width="5.5" height="52.5" fill="#a3a3a3" stroke="#3aa7c9" stroke-width="1.8" rx="1"/>
<path d="M995.5,686.5 L1033.5,660.8 L1033.5,713 Z" fill="#a3a3a3" stroke="#3aa7c9" stroke-width="2.2" stroke-linejoin="round"/>
</svg>
<div id="title" class="abs">研发技术特色</div>
<div id="bluetxt" class="abs">苛刻工况解决方<br>案、高精度调节<br>阀门解决方案</div>
<div class="abs dot" style="top:55px"></div><div class="abs dot" style="top:87px"></div><div class="abs dot" style="top:119.5px"></div>
<div class="abs bul" style="top:44px">多级降压</div>
<div class="abs bul" style="top:76px">短柱迷宫降压</div>
<div class="abs bul" style="top:109px">迷宫碟片降压</div>

<div class="abs lbl" style="left:295.5px;top:244px">6</div>
<div class="abs lbl" style="left:295.5px;top:279px">5</div>
<div class="abs lbl" style="left:295.5px;top:312px">4</div>
<div class="abs lbl" style="left:295.5px;top:343px">3</div>
<div class="abs lbl" style="left:295.5px;top:383px">2</div>
<div class="abs lbl" style="left:295.5px;top:413px">1</div>
<div id="cap" class="abs"><span style="left:1px">1 底塞</span><span style="left:41.5px">2 阀体部件阀座</span><span style="left:124.5px">3 套筒阀座</span><span style="left:187.5px">4 阀芯</span><span style="left:229.5px">5 阀杆</span><span style="left:269.5px">6 填料</span></div>
</body></html>
